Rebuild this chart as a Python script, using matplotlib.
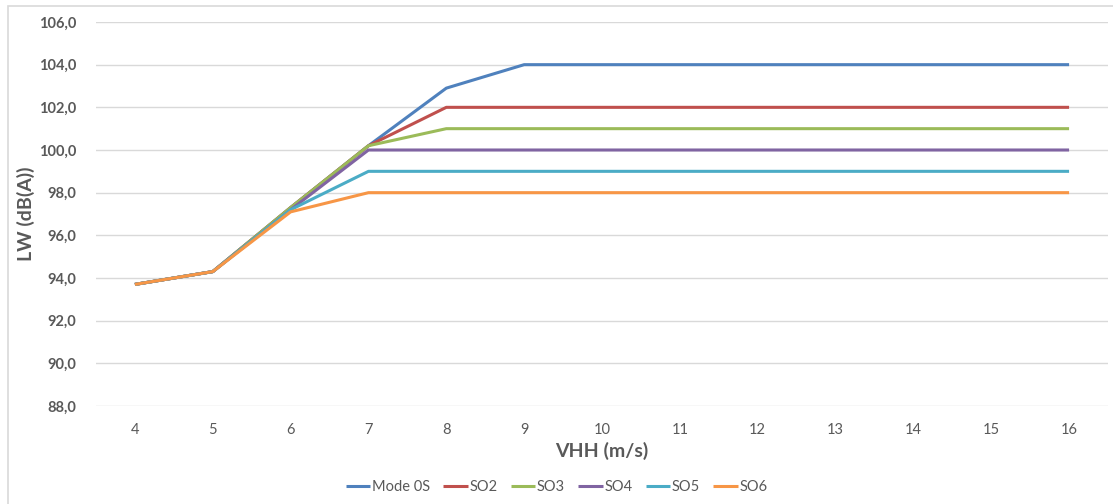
import matplotlib
matplotlib.use("Agg")
import matplotlib.pyplot as plt
import matplotlib.ticker as ticker
from matplotlib.patches import Rectangle

plt.rcParams["font.family"] = ["Lato", "DejaVu Sans"]

# ── Data ──────────────────────────────────────────────────────────────────────
VHH = [4, 5, 6, 7, 8, 9, 10, 11, 12, 13, 14, 15, 16]
mode_0s = [93.7, 94.3, 97.3, 100.2, 102.9, 104.0, 104.0, 104.0, 104.0, 104.0, 104.0, 104.0, 104.0]
so2 = [93.7, 94.3, 97.3, 100.2, 102.0, 102.0, 102.0, 102.0, 102.0, 102.0, 102.0, 102.0, 102.0]
so3 = [93.7, 94.3, 97.3, 100.2, 101.0, 101.0, 101.0, 101.0, 101.0, 101.0, 101.0, 101.0, 101.0]
so4 = [93.7, 94.3, 97.2, 100.0, 100.0, 100.0, 100.0, 100.0, 100.0, 100.0, 100.0, 100.0, 100.0]
so5 = [93.7, 94.3, 97.2, 99.0, 99.0, 99.0, 99.0, 99.0, 99.0, 99.0, 99.0, 99.0, 99.0]
so6 = [93.7, 94.3, 97.1, 98.0, 98.0, 98.0, 98.0, 98.0, 98.0, 98.0, 98.0, 98.0, 98.0]

series = [
    ("Mode 0S", mode_0s, "#4F81BD"),
    ("SO2",     so2,     "#C0504D"),
    ("SO3",     so3,     "#9BBB59"),
    ("SO4",     so4,     "#8064A2"),
    ("SO5",     so5,     "#4BACC6"),
    ("SO6",     so6,     "#F79646"),
]

# ── Plot ──────────────────────────────────────────────────────────────────────
fig = plt.figure(figsize=(11.13, 5.04), dpi=100)
ax = fig.add_axes([96 / 1113, 1 - 406 / 504, (1108 - 96) / 1113, (406 - 22) / 504])

# chart frame (only left/top edges fall inside the picture)
fig.patches.append(Rectangle((8 / 1113, -0.05), 1.2, 1 - 6 / 504 + 0.05,
                             transform=fig.transFigure, fill=False,
                             edgecolor="#D9D9D9", linewidth=1.2))

pos = list(range(len(VHH)))
for name, vals, col in series:
    ax.plot(pos, vals, color=col, linewidth=2.2, label=name,
            solid_capstyle="butt")

ax.set_xlim(-0.5, len(VHH) - 0.5)
ax.set_ylim(88, 106)
ax.set_xticks(pos)
ax.set_xticklabels([str(v) for v in VHH])
ax.yaxis.set_major_locator(ticker.MultipleLocator(2))
ax.yaxis.set_major_formatter(
    ticker.FuncFormatter(lambda v, p: f"{v:.1f}".replace(".", ",")))

for s in ax.spines.values():
    s.set_visible(False)
ax.grid(axis="y", color="#D9D9D9", linewidth=1)
ax.set_axisbelow(True)
ax.tick_params(length=0)
ax.tick_params(axis="x", pad=12, labelsize=10.5, labelcolor="#595959")
ax.tick_params(axis="y", pad=14, labelsize=10.5, labelcolor="#595959")
for lab in ax.get_yticklabels():
    lab.set_fontweight("bold")

ax.set_xlabel("VHH (m/s)", fontsize=14, fontweight="bold", color="#595959",
              labelpad=4)
ax.set_ylabel("LW (dB(A))", fontsize=14, fontweight="bold", color="#595959",
              labelpad=3)

fig.legend(loc="center", bbox_to_anchor=(0.5, 1 - 487 / 504), ncol=6,
           frameon=False, fontsize=10.5, handlelength=1.7, handletextpad=0.1,
           columnspacing=0.9, labelcolor="#595959")

fig.savefig("out.png", dpi=100)
